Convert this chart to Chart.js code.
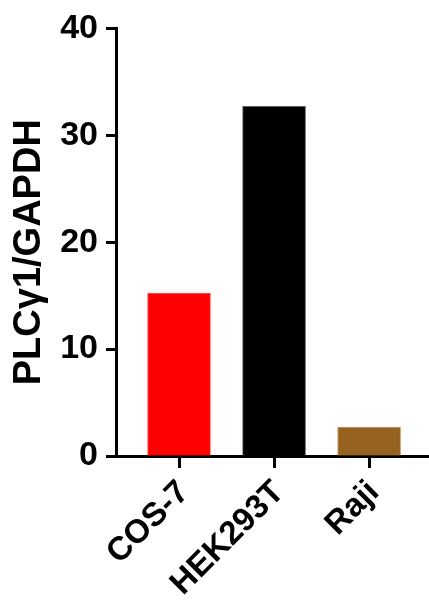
<!DOCTYPE html>
<html>
<head>
<meta charset="utf-8">
<script src="https://cdn.jsdelivr.net/npm/chart.js@4/dist/chart.umd.min.js"></script>
<style>
  html, body { margin: 0; padding: 0; background: #ffffff; }
  #wrap { position: relative; width: 429px; height: 600px; }
</style>
</head>
<body>
<div id="wrap"><canvas id="c" width="429" height="600"></canvas></div>
<script>
const categories = ["COS-7", "HEK293T", "Raji"];
const values = [15.25, 32.7, 2.7];
const barColors = ["#ff0000", "#000000", "#956220"];
const barEdges = ["#ff6060", "#606060", "#c8a070"];
const yTicks = [0, 10, 20, 30, 40];
const yTitle = "PLCγ1/GAPDH";

const FONT = 'Arial, "Liberation Sans", sans-serif';

const yTitlePlugin = {
  id: 'yTitle',
  afterDraw(chart) {
    const ctx = chart.ctx;
    const a = chart.chartArea;
    ctx.save();
    ctx.translate(30, (a.top + a.bottom) / 2 + 10);
    ctx.rotate(-Math.PI / 2);
    ctx.font = 'bold 38px ' + FONT;
    ctx.fillStyle = '#000';
    ctx.textAlign = 'center';
    ctx.textBaseline = 'middle';
    ctx.fillText(yTitle, 0, 0);
    ctx.restore();
  }
};

new Chart(document.getElementById('c'), {
  type: 'bar',
  data: {
    datasets: [{
      data: categories.map((c, i) => ({ x: i, y: values[i] })),
      backgroundColor: barColors,
      borderColor: barEdges,
      borderWidth: 1,
      borderSkipped: 'bottom',
      barThickness: 63
    }]
  },
  options: {
    responsive: false,
    animation: false,
    layout: { padding: { top: 26, right: 0, left: 0, bottom: 0 } },
    plugins: { legend: { display: false }, tooltip: { enabled: false } },
    scales: {
      x: {
        type: 'linear',
        offset: false,
        min: -0.663,
        max: 2.63,
        afterBuildTicks(scale) { scale.ticks = categories.map((c, i) => ({ value: i })); },
        afterFit(scale) { scale.height = 144; },
        border: { display: true, color: '#000', width: 3 },
        grid: { offset: false, drawOnChartArea: false, drawTicks: true, tickLength: 12, tickWidth: 3, tickColor: '#000' },
        ticks: {
          autoSkip: false,
          minRotation: 45,
          maxRotation: 45,
          padding: 5,
          labelOffset: 5,
          color: '#000',
          font: { family: FONT, size: 33, weight: 'bold' },
          callback: (v) => categories[v]
        }
      },
      y: {
        min: 0,
        max: 40,
        afterBuildTicks(scale) { scale.ticks = yTicks.map(v => ({ value: v })); },
        afterFit(scale) { scale.width = 116; },
        border: { display: true, color: '#000', width: 3 },
        grid: { drawOnChartArea: false, drawTicks: true, tickLength: 10, tickWidth: 3, tickColor: '#000' },
        ticks: {
          padding: 8,
          color: '#000',
          font: { family: FONT, size: 34, weight: 'bold' }
        }
      }
    }
  },
  plugins: [yTitlePlugin]
});
</script>
</body>
</html>
